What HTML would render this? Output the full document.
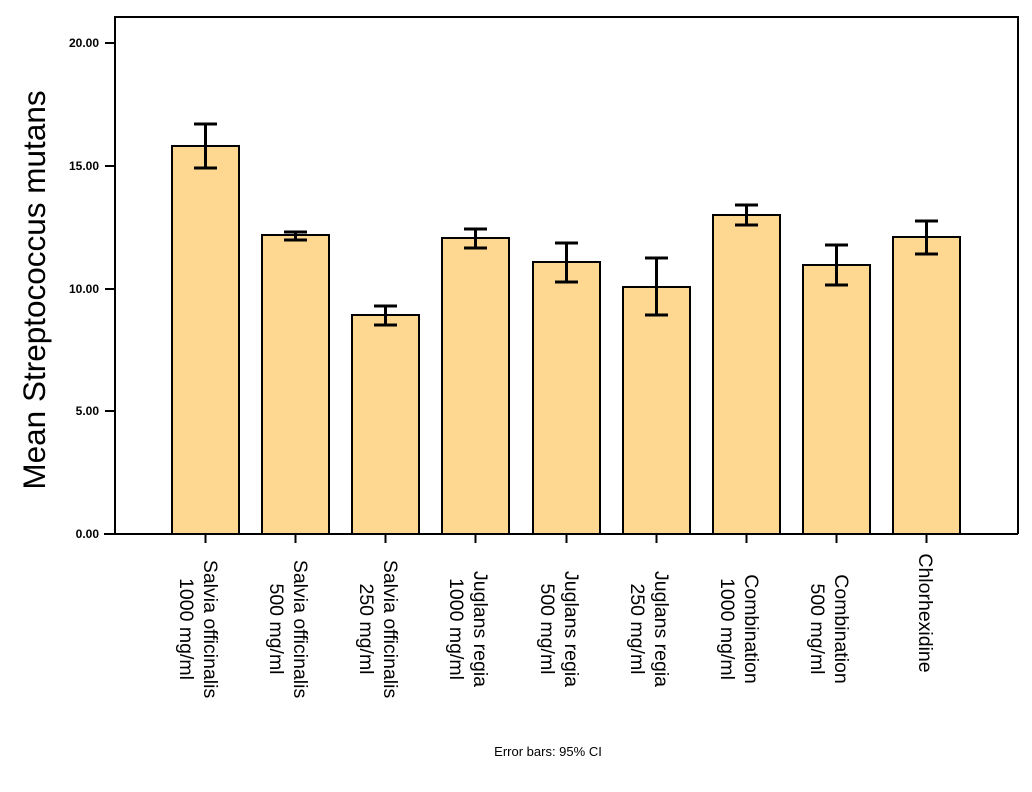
<!DOCTYPE html>
<html><head><meta charset="utf-8"><style>body{margin:0;background:#fff}</style></head><body>
<svg width="1032" height="787" xmlns="http://www.w3.org/2000/svg" font-family="Liberation Sans, Arial, sans-serif">
<rect width="1032" height="787" fill="#fff"/>
<g stroke="#000" stroke-width="2" fill="#fed891">
<rect x="172" y="146" width="67" height="388"/>
<rect x="262" y="235" width="67" height="299"/>
<rect x="352" y="315" width="67" height="219"/>
<rect x="442" y="238" width="67" height="296"/>
<rect x="533" y="262" width="67" height="272"/>
<rect x="623" y="287" width="67" height="247"/>
<rect x="713" y="215" width="67" height="319"/>
<rect x="803" y="265" width="67" height="269"/>
<rect x="893" y="237" width="67" height="297"/>
</g>
<g stroke="#000" stroke-width="3" fill="none">
<path d="M205.5 124V168M194 124H217M194 168H217"/>
<path d="M295.5 232V240M284 232H307M284 240H307"/>
<path d="M385.5 306V325M374 306H397M374 325H397"/>
<path d="M475.5 229V248M464 229H487M464 248H487"/>
<path d="M566.5 243V282M555 243H578M555 282H578"/>
<path d="M656.5 258V315M645 258H668M645 315H668"/>
<path d="M746.5 205V225M735 205H758M735 225H758"/>
<path d="M836.5 245V285M825 245H848M825 285H848"/>
<path d="M926.5 221V254M915 221H938M915 254H938"/>
</g>
<g stroke="#000" stroke-width="2" fill="none">
<path d="M115 534V17H1018V534"/>
<path d="M104 534H1018"/>
<path d="M105 43H115M105 166H115M105 289H115M105 411H115"/>
<path d="M205.5 534V543M295.5 534V543M385.5 534V543M475.5 534V543M566.5 534V543M656.5 534V543M746.5 534V543M836.5 534V543M926.5 534V543"/>
</g>
<g font-size="12" font-weight="bold" text-anchor="end">
<text x="99" y="47">20.00</text><text x="99" y="170">15.00</text><text x="99" y="293">10.00</text><text x="99" y="415">5.00</text><text x="99" y="538">0.00</text>
</g>
<text transform="translate(45 290) rotate(-90)" font-size="31.5" text-anchor="middle">Mean Streptococcus mutans</text>
<g font-size="19.5" text-anchor="middle">
<g transform="translate(200 629) rotate(90)"><text x="0" y="-4">Salvia officinalis</text><text x="0" y="20">1000 mg/ml</text></g>
<g transform="translate(290 629) rotate(90)"><text x="0" y="-4">Salvia officinalis</text><text x="0" y="20">500 mg/ml</text></g>
<g transform="translate(380 629) rotate(90)"><text x="0" y="-4">Salvia officinalis</text><text x="0" y="20">250 mg/ml</text></g>
<g transform="translate(470 629) rotate(90)"><text x="0" y="-4">Juglans regia</text><text x="0" y="20">1000 mg/ml</text></g>
<g transform="translate(561 629) rotate(90)"><text x="0" y="-4">Juglans regia</text><text x="0" y="20">500 mg/ml</text></g>
<g transform="translate(651 629) rotate(90)"><text x="0" y="-4">Juglans regia</text><text x="0" y="20">250 mg/ml</text></g>
<g transform="translate(741 629) rotate(90)"><text x="0" y="-4">Combination</text><text x="0" y="20">1000 mg/ml</text></g>
<g transform="translate(831 629) rotate(90)"><text x="0" y="-4">Combination</text><text x="0" y="20">500 mg/ml</text></g>
<g transform="translate(926 613) rotate(90)"><text x="0" y="7">Chlorhexidine</text></g>
</g>
<text x="548" y="756" font-size="13" text-anchor="middle">Error bars: 95% CI</text>
</svg>
</body></html>
